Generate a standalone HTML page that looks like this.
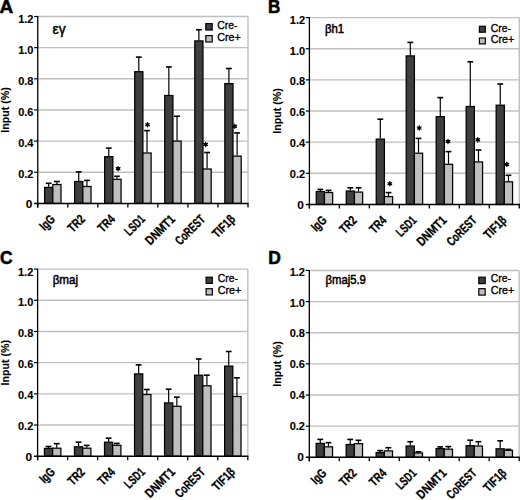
<!DOCTYPE html>
<html><head><meta charset="utf-8"><style>
html,body{margin:0;padding:0;background:#fff;}
body{width:520px;height:500px;overflow:hidden;}
svg{display:block;font-family:"Liberation Sans", sans-serif;}
.xl{stroke:#000;stroke-width:0.3px;}
.yt{stroke:#000;stroke-width:0.1px;}
.pl{stroke:#000;stroke-width:0.6px;}
.tk{stroke:#000;stroke-width:0.12px;}
.ti{stroke:#000;stroke-width:0.5px;}
.lg{stroke:#000;stroke-width:0.35px;}
</style></head><body>
<svg width="520" height="500" viewBox="0 0 520 500" fill="#000">
<rect width="520" height="500" fill="#fff"/>
<line x1="37.75" y1="16.5" x2="248" y2="16.5" stroke="#c0c0c0" stroke-width="1.4"/>
<line x1="37.75" y1="47.65" x2="248" y2="47.65" stroke="#c0c0c0" stroke-width="1.4"/>
<line x1="37.75" y1="78.8" x2="248" y2="78.8" stroke="#c0c0c0" stroke-width="1.4"/>
<line x1="37.75" y1="109.95" x2="248" y2="109.95" stroke="#c0c0c0" stroke-width="1.4"/>
<line x1="37.75" y1="141.1" x2="248" y2="141.1" stroke="#c0c0c0" stroke-width="1.4"/>
<line x1="37.75" y1="172.25" x2="248" y2="172.25" stroke="#c0c0c0" stroke-width="1.4"/>
<line x1="248" y1="16.5" x2="248" y2="203.4" stroke="#c0c0c0" stroke-width="1.4"/>
<line x1="48.7" y1="186.9" x2="48.7" y2="183.3" stroke="#000" stroke-width="1.2"/>
<line x1="45.8" y1="183.3" x2="51.6" y2="183.3" stroke="#000" stroke-width="1.6"/>
<line x1="56.9" y1="184" x2="56.9" y2="181.5" stroke="#000" stroke-width="1.2"/>
<line x1="54" y1="181.5" x2="59.8" y2="181.5" stroke="#000" stroke-width="1.6"/>
<rect x="44.6" y="187.4" width="8.2" height="16" fill="#3f3f3f" stroke="#000" stroke-width="1.25"/>
<rect x="52.8" y="184.5" width="8.2" height="18.9" fill="#bebebe" stroke="#000" stroke-width="1.25"/>
<line x1="78.74" y1="181" x2="78.74" y2="171.9" stroke="#000" stroke-width="1.2"/>
<line x1="75.84" y1="171.9" x2="81.64" y2="171.9" stroke="#000" stroke-width="1.6"/>
<line x1="86.94" y1="186" x2="86.94" y2="180.4" stroke="#000" stroke-width="1.2"/>
<line x1="84.04" y1="180.4" x2="89.84" y2="180.4" stroke="#000" stroke-width="1.6"/>
<rect x="74.64" y="181.5" width="8.2" height="21.9" fill="#3f3f3f" stroke="#000" stroke-width="1.25"/>
<rect x="82.84" y="186.5" width="8.2" height="16.9" fill="#bebebe" stroke="#000" stroke-width="1.25"/>
<line x1="108.77" y1="156.2" x2="108.77" y2="148.1" stroke="#000" stroke-width="1.2"/>
<line x1="105.87" y1="148.1" x2="111.67" y2="148.1" stroke="#000" stroke-width="1.6"/>
<line x1="116.97" y1="178.8" x2="116.97" y2="176.3" stroke="#000" stroke-width="1.2"/>
<line x1="114.07" y1="176.3" x2="119.87" y2="176.3" stroke="#000" stroke-width="1.6"/>
<rect x="104.67" y="156.7" width="8.2" height="46.7" fill="#3f3f3f" stroke="#000" stroke-width="1.25"/>
<rect x="112.87" y="179.3" width="8.2" height="24.1" fill="#bebebe" stroke="#000" stroke-width="1.25"/>
<line x1="138.81" y1="71.2" x2="138.81" y2="57.1" stroke="#000" stroke-width="1.2"/>
<line x1="135.91" y1="57.1" x2="141.71" y2="57.1" stroke="#000" stroke-width="1.6"/>
<line x1="147.01" y1="152.5" x2="147.01" y2="130.6" stroke="#000" stroke-width="1.2"/>
<line x1="144.11" y1="130.6" x2="149.91" y2="130.6" stroke="#000" stroke-width="1.6"/>
<rect x="134.71" y="71.7" width="8.2" height="131.7" fill="#3f3f3f" stroke="#000" stroke-width="1.25"/>
<rect x="142.91" y="153" width="8.2" height="50.4" fill="#bebebe" stroke="#000" stroke-width="1.25"/>
<line x1="168.84" y1="95" x2="168.84" y2="66.9" stroke="#000" stroke-width="1.2"/>
<line x1="165.94" y1="66.9" x2="171.74" y2="66.9" stroke="#000" stroke-width="1.6"/>
<line x1="177.04" y1="140.6" x2="177.04" y2="116.25" stroke="#000" stroke-width="1.2"/>
<line x1="174.14" y1="116.25" x2="179.94" y2="116.25" stroke="#000" stroke-width="1.6"/>
<rect x="164.74" y="95.5" width="8.2" height="107.9" fill="#3f3f3f" stroke="#000" stroke-width="1.25"/>
<rect x="172.94" y="141.1" width="8.2" height="62.3" fill="#bebebe" stroke="#000" stroke-width="1.25"/>
<line x1="198.88" y1="40.4" x2="198.88" y2="29.75" stroke="#000" stroke-width="1.2"/>
<line x1="195.98" y1="29.75" x2="201.78" y2="29.75" stroke="#000" stroke-width="1.6"/>
<line x1="207.08" y1="168.5" x2="207.08" y2="152.5" stroke="#000" stroke-width="1.2"/>
<line x1="204.18" y1="152.5" x2="209.98" y2="152.5" stroke="#000" stroke-width="1.6"/>
<rect x="194.78" y="40.9" width="8.2" height="162.5" fill="#3f3f3f" stroke="#000" stroke-width="1.25"/>
<rect x="202.98" y="169" width="8.2" height="34.4" fill="#bebebe" stroke="#000" stroke-width="1.25"/>
<line x1="228.91" y1="83.1" x2="228.91" y2="68.5" stroke="#000" stroke-width="1.2"/>
<line x1="226.01" y1="68.5" x2="231.81" y2="68.5" stroke="#000" stroke-width="1.6"/>
<line x1="237.11" y1="155.6" x2="237.11" y2="132.9" stroke="#000" stroke-width="1.2"/>
<line x1="234.21" y1="132.9" x2="240.01" y2="132.9" stroke="#000" stroke-width="1.6"/>
<rect x="224.81" y="83.6" width="8.2" height="119.8" fill="#3f3f3f" stroke="#000" stroke-width="1.25"/>
<rect x="233.01" y="156.1" width="8.2" height="47.3" fill="#bebebe" stroke="#000" stroke-width="1.25"/>
<line x1="37.75" y1="16" x2="37.75" y2="207.4" stroke="#000" stroke-width="1.3"/>
<line x1="34.15" y1="203.4" x2="248.6" y2="203.4" stroke="#000" stroke-width="1.5"/>
<line x1="34.15" y1="16.5" x2="37.75" y2="16.5" stroke="#000" stroke-width="1.2"/>
<line x1="34.15" y1="47.65" x2="37.75" y2="47.65" stroke="#000" stroke-width="1.2"/>
<line x1="34.15" y1="78.8" x2="37.75" y2="78.8" stroke="#000" stroke-width="1.2"/>
<line x1="34.15" y1="109.95" x2="37.75" y2="109.95" stroke="#000" stroke-width="1.2"/>
<line x1="34.15" y1="141.1" x2="37.75" y2="141.1" stroke="#000" stroke-width="1.2"/>
<line x1="34.15" y1="172.25" x2="37.75" y2="172.25" stroke="#000" stroke-width="1.2"/>
<line x1="37.75" y1="203.4" x2="37.75" y2="207.4" stroke="#000" stroke-width="1.3"/>
<line x1="67.79" y1="203.4" x2="67.79" y2="207.4" stroke="#000" stroke-width="1.3"/>
<line x1="97.82" y1="203.4" x2="97.82" y2="207.4" stroke="#000" stroke-width="1.3"/>
<line x1="127.86" y1="203.4" x2="127.86" y2="207.4" stroke="#000" stroke-width="1.3"/>
<line x1="157.89" y1="203.4" x2="157.89" y2="207.4" stroke="#000" stroke-width="1.3"/>
<line x1="187.93" y1="203.4" x2="187.93" y2="207.4" stroke="#000" stroke-width="1.3"/>
<line x1="217.96" y1="203.4" x2="217.96" y2="207.4" stroke="#000" stroke-width="1.3"/>
<line x1="248" y1="203.4" x2="248" y2="207.4" stroke="#000" stroke-width="1.3"/>
<text x="33.45" y="23.25" class="tk" text-anchor="end" font-size="11.8" font-weight="bold" textLength="15.3" lengthAdjust="spacingAndGlyphs">1.2</text>
<text x="33.45" y="54.11" class="tk" text-anchor="end" font-size="11.8" font-weight="bold" textLength="15.3" lengthAdjust="spacingAndGlyphs">1.0</text>
<text x="33.45" y="84.97" class="tk" text-anchor="end" font-size="11.8" font-weight="bold" textLength="15.3" lengthAdjust="spacingAndGlyphs">0.8</text>
<text x="33.45" y="115.83" class="tk" text-anchor="end" font-size="11.8" font-weight="bold" textLength="15.3" lengthAdjust="spacingAndGlyphs">0.6</text>
<text x="33.45" y="146.68" class="tk" text-anchor="end" font-size="11.8" font-weight="bold" textLength="15.3" lengthAdjust="spacingAndGlyphs">0.4</text>
<text x="33.45" y="177.54" class="tk" text-anchor="end" font-size="11.8" font-weight="bold" textLength="15.3" lengthAdjust="spacingAndGlyphs">0.2</text>
<text x="32.25" y="208.4" class="tk" text-anchor="end" font-size="11.8" font-weight="bold" textLength="6.6" lengthAdjust="spacingAndGlyphs">0</text>
<text transform="translate(9.15,109.95) rotate(-90)" class="yt" text-anchor="middle" font-size="11.8" font-weight="bold" textLength="45.5" lengthAdjust="spacingAndGlyphs">Input (%)</text>
<text transform="translate(55.85,220) rotate(-45)" class="xl" text-anchor="end" font-size="12.8" font-weight="bold" textLength="16" lengthAdjust="spacingAndGlyphs">IgG</text>
<text transform="translate(85.89,220) rotate(-45)" class="xl" text-anchor="end" font-size="12.8" font-weight="bold" textLength="18.5" lengthAdjust="spacingAndGlyphs">TR2</text>
<text transform="translate(115.92,220) rotate(-45)" class="xl" text-anchor="end" font-size="12.8" font-weight="bold" textLength="18.5" lengthAdjust="spacingAndGlyphs">TR4</text>
<text transform="translate(145.96,220) rotate(-45)" class="xl" text-anchor="end" font-size="12.8" font-weight="bold" textLength="23.3" lengthAdjust="spacingAndGlyphs">LSD1</text>
<text transform="translate(175.99,220) rotate(-45)" class="xl" text-anchor="end" font-size="12.8" font-weight="bold" textLength="36.4" lengthAdjust="spacingAndGlyphs">DNMT1</text>
<text transform="translate(206.03,220) rotate(-45)" class="xl" text-anchor="end" font-size="12.8" font-weight="bold" textLength="36.4" lengthAdjust="spacingAndGlyphs">CoREST</text>
<text transform="translate(236.06,220) rotate(-45)" class="xl" text-anchor="end" font-size="12.8" font-weight="bold" textLength="26.5" lengthAdjust="spacingAndGlyphs">TIF1β</text>
<path d="M118.1 166.6L118.1 170.8M116.28 167.65L119.92 169.75M119.92 167.65L116.28 169.75" stroke="#000" stroke-width="1.3" stroke-linecap="round"/>
<circle cx="118.1" cy="168.7" r="1.5" fill="#000"/>
<path d="M147.5 122.65L147.5 126.85M145.68 123.7L149.32 125.8M149.32 123.7L145.68 125.8" stroke="#000" stroke-width="1.3" stroke-linecap="round"/>
<circle cx="147.5" cy="124.75" r="1.5" fill="#000"/>
<path d="M205.6 142.3L205.6 146.5M203.78 143.35L207.42 145.45M207.42 143.35L203.78 145.45" stroke="#000" stroke-width="1.3" stroke-linecap="round"/>
<circle cx="205.6" cy="144.4" r="1.5" fill="#000"/>
<path d="M234.75 124.15L234.75 128.35M232.93 125.2L236.57 127.3M236.57 125.2L232.93 127.3" stroke="#000" stroke-width="1.3" stroke-linecap="round"/>
<circle cx="234.75" cy="126.25" r="1.5" fill="#000"/>
<text x="52.5" y="33.5" class="ti" font-size="14.8" textLength="13.1" lengthAdjust="spacingAndGlyphs">εγ</text>
<rect x="205.8" y="23.6" width="6.4" height="6.4" fill="#3f3f3f" stroke="#000" stroke-width="1.2"/>
<rect x="205.8" y="35.6" width="6.4" height="6.4" fill="#bebebe" stroke="#000" stroke-width="1.2"/>
<text x="217.2" y="29.4" class="lg" font-size="11.2" textLength="20.2" lengthAdjust="spacingAndGlyphs">Cre-</text>
<text x="217.2" y="41.4" class="lg" font-size="11.2" textLength="23.6" lengthAdjust="spacingAndGlyphs">Cre+</text>
<text x="-0.6" y="12.8" class="pl" font-size="19" font-weight="bold" textLength="13.7" lengthAdjust="spacingAndGlyphs">A</text>
<line x1="309.4" y1="17.6" x2="519.3" y2="17.6" stroke="#c0c0c0" stroke-width="1.4"/>
<line x1="309.4" y1="48.74" x2="519.3" y2="48.74" stroke="#c0c0c0" stroke-width="1.4"/>
<line x1="309.4" y1="79.88" x2="519.3" y2="79.88" stroke="#c0c0c0" stroke-width="1.4"/>
<line x1="309.4" y1="111.03" x2="519.3" y2="111.03" stroke="#c0c0c0" stroke-width="1.4"/>
<line x1="309.4" y1="142.17" x2="519.3" y2="142.17" stroke="#c0c0c0" stroke-width="1.4"/>
<line x1="309.4" y1="173.31" x2="519.3" y2="173.31" stroke="#c0c0c0" stroke-width="1.4"/>
<line x1="519.3" y1="17.6" x2="519.3" y2="204.45" stroke="#c0c0c0" stroke-width="1.4"/>
<line x1="320.35" y1="191" x2="320.35" y2="189.4" stroke="#000" stroke-width="1.2"/>
<line x1="317.45" y1="189.4" x2="323.25" y2="189.4" stroke="#000" stroke-width="1.6"/>
<line x1="328.55" y1="192" x2="328.55" y2="190.4" stroke="#000" stroke-width="1.2"/>
<line x1="325.65" y1="190.4" x2="331.45" y2="190.4" stroke="#000" stroke-width="1.6"/>
<rect x="316.25" y="191.5" width="8.2" height="12.95" fill="#3f3f3f" stroke="#000" stroke-width="1.25"/>
<rect x="324.45" y="192.5" width="8.2" height="11.95" fill="#bebebe" stroke="#000" stroke-width="1.25"/>
<line x1="350.34" y1="190.5" x2="350.34" y2="187.8" stroke="#000" stroke-width="1.2"/>
<line x1="347.44" y1="187.8" x2="353.24" y2="187.8" stroke="#000" stroke-width="1.6"/>
<line x1="358.54" y1="191.6" x2="358.54" y2="187.8" stroke="#000" stroke-width="1.2"/>
<line x1="355.64" y1="187.8" x2="361.44" y2="187.8" stroke="#000" stroke-width="1.6"/>
<rect x="346.24" y="191" width="8.2" height="13.45" fill="#3f3f3f" stroke="#000" stroke-width="1.25"/>
<rect x="354.44" y="192.1" width="8.2" height="12.35" fill="#bebebe" stroke="#000" stroke-width="1.25"/>
<line x1="380.32" y1="138.6" x2="380.32" y2="119.2" stroke="#000" stroke-width="1.2"/>
<line x1="377.42" y1="119.2" x2="383.22" y2="119.2" stroke="#000" stroke-width="1.6"/>
<line x1="388.52" y1="196.1" x2="388.52" y2="192.6" stroke="#000" stroke-width="1.2"/>
<line x1="385.62" y1="192.6" x2="391.42" y2="192.6" stroke="#000" stroke-width="1.6"/>
<rect x="376.22" y="139.1" width="8.2" height="65.35" fill="#3f3f3f" stroke="#000" stroke-width="1.25"/>
<rect x="384.42" y="196.6" width="8.2" height="7.85" fill="#bebebe" stroke="#000" stroke-width="1.25"/>
<line x1="410.31" y1="55.4" x2="410.31" y2="42.4" stroke="#000" stroke-width="1.2"/>
<line x1="407.41" y1="42.4" x2="413.21" y2="42.4" stroke="#000" stroke-width="1.6"/>
<line x1="418.51" y1="152.7" x2="418.51" y2="138.4" stroke="#000" stroke-width="1.2"/>
<line x1="415.61" y1="138.4" x2="421.41" y2="138.4" stroke="#000" stroke-width="1.6"/>
<rect x="406.21" y="55.9" width="8.2" height="148.55" fill="#3f3f3f" stroke="#000" stroke-width="1.25"/>
<rect x="414.41" y="153.2" width="8.2" height="51.25" fill="#bebebe" stroke="#000" stroke-width="1.25"/>
<line x1="440.29" y1="116.2" x2="440.29" y2="97.6" stroke="#000" stroke-width="1.2"/>
<line x1="437.39" y1="97.6" x2="443.19" y2="97.6" stroke="#000" stroke-width="1.6"/>
<line x1="448.49" y1="163.8" x2="448.49" y2="151.6" stroke="#000" stroke-width="1.2"/>
<line x1="445.59" y1="151.6" x2="451.39" y2="151.6" stroke="#000" stroke-width="1.6"/>
<rect x="436.19" y="116.7" width="8.2" height="87.75" fill="#3f3f3f" stroke="#000" stroke-width="1.25"/>
<rect x="444.39" y="164.3" width="8.2" height="40.15" fill="#bebebe" stroke="#000" stroke-width="1.25"/>
<line x1="470.28" y1="106" x2="470.28" y2="61.8" stroke="#000" stroke-width="1.2"/>
<line x1="467.38" y1="61.8" x2="473.18" y2="61.8" stroke="#000" stroke-width="1.6"/>
<line x1="478.48" y1="161.4" x2="478.48" y2="150" stroke="#000" stroke-width="1.2"/>
<line x1="475.58" y1="150" x2="481.38" y2="150" stroke="#000" stroke-width="1.6"/>
<rect x="466.18" y="106.5" width="8.2" height="97.95" fill="#3f3f3f" stroke="#000" stroke-width="1.25"/>
<rect x="474.38" y="161.9" width="8.2" height="42.55" fill="#bebebe" stroke="#000" stroke-width="1.25"/>
<line x1="500.26" y1="104.7" x2="500.26" y2="84" stroke="#000" stroke-width="1.2"/>
<line x1="497.36" y1="84" x2="503.16" y2="84" stroke="#000" stroke-width="1.6"/>
<line x1="508.46" y1="181.3" x2="508.46" y2="175.3" stroke="#000" stroke-width="1.2"/>
<line x1="505.56" y1="175.3" x2="511.36" y2="175.3" stroke="#000" stroke-width="1.6"/>
<rect x="496.16" y="105.2" width="8.2" height="99.25" fill="#3f3f3f" stroke="#000" stroke-width="1.25"/>
<rect x="504.36" y="181.8" width="8.2" height="22.65" fill="#bebebe" stroke="#000" stroke-width="1.25"/>
<line x1="309.4" y1="17.1" x2="309.4" y2="208.45" stroke="#000" stroke-width="1.3"/>
<line x1="305.8" y1="204.45" x2="519.9" y2="204.45" stroke="#000" stroke-width="1.5"/>
<line x1="305.8" y1="17.6" x2="309.4" y2="17.6" stroke="#000" stroke-width="1.2"/>
<line x1="305.8" y1="48.74" x2="309.4" y2="48.74" stroke="#000" stroke-width="1.2"/>
<line x1="305.8" y1="79.88" x2="309.4" y2="79.88" stroke="#000" stroke-width="1.2"/>
<line x1="305.8" y1="111.03" x2="309.4" y2="111.03" stroke="#000" stroke-width="1.2"/>
<line x1="305.8" y1="142.17" x2="309.4" y2="142.17" stroke="#000" stroke-width="1.2"/>
<line x1="305.8" y1="173.31" x2="309.4" y2="173.31" stroke="#000" stroke-width="1.2"/>
<line x1="309.4" y1="204.45" x2="309.4" y2="208.45" stroke="#000" stroke-width="1.3"/>
<line x1="339.39" y1="204.45" x2="339.39" y2="208.45" stroke="#000" stroke-width="1.3"/>
<line x1="369.37" y1="204.45" x2="369.37" y2="208.45" stroke="#000" stroke-width="1.3"/>
<line x1="399.36" y1="204.45" x2="399.36" y2="208.45" stroke="#000" stroke-width="1.3"/>
<line x1="429.34" y1="204.45" x2="429.34" y2="208.45" stroke="#000" stroke-width="1.3"/>
<line x1="459.33" y1="204.45" x2="459.33" y2="208.45" stroke="#000" stroke-width="1.3"/>
<line x1="489.31" y1="204.45" x2="489.31" y2="208.45" stroke="#000" stroke-width="1.3"/>
<line x1="519.3" y1="204.45" x2="519.3" y2="208.45" stroke="#000" stroke-width="1.3"/>
<text x="305.1" y="23.7" class="tk" text-anchor="end" font-size="11.8" font-weight="bold" textLength="15.3" lengthAdjust="spacingAndGlyphs">1.2</text>
<text x="305.1" y="54.58" class="tk" text-anchor="end" font-size="11.8" font-weight="bold" textLength="15.3" lengthAdjust="spacingAndGlyphs">1.0</text>
<text x="305.1" y="85.47" class="tk" text-anchor="end" font-size="11.8" font-weight="bold" textLength="15.3" lengthAdjust="spacingAndGlyphs">0.8</text>
<text x="305.1" y="116.35" class="tk" text-anchor="end" font-size="11.8" font-weight="bold" textLength="15.3" lengthAdjust="spacingAndGlyphs">0.6</text>
<text x="305.1" y="147.23" class="tk" text-anchor="end" font-size="11.8" font-weight="bold" textLength="15.3" lengthAdjust="spacingAndGlyphs">0.4</text>
<text x="305.1" y="178.12" class="tk" text-anchor="end" font-size="11.8" font-weight="bold" textLength="15.3" lengthAdjust="spacingAndGlyphs">0.2</text>
<text x="303.9" y="209" class="tk" text-anchor="end" font-size="11.8" font-weight="bold" textLength="6.6" lengthAdjust="spacingAndGlyphs">0</text>
<text transform="translate(280.8,111.02) rotate(-90)" class="yt" text-anchor="middle" font-size="11.8" font-weight="bold" textLength="45.5" lengthAdjust="spacingAndGlyphs">Input (%)</text>
<text transform="translate(327.5,221.05) rotate(-45)" class="xl" text-anchor="end" font-size="12.8" font-weight="bold" textLength="16" lengthAdjust="spacingAndGlyphs">IgG</text>
<text transform="translate(357.49,221.05) rotate(-45)" class="xl" text-anchor="end" font-size="12.8" font-weight="bold" textLength="18.5" lengthAdjust="spacingAndGlyphs">TR2</text>
<text transform="translate(387.47,221.05) rotate(-45)" class="xl" text-anchor="end" font-size="12.8" font-weight="bold" textLength="18.5" lengthAdjust="spacingAndGlyphs">TR4</text>
<text transform="translate(417.46,221.05) rotate(-45)" class="xl" text-anchor="end" font-size="12.8" font-weight="bold" textLength="23.3" lengthAdjust="spacingAndGlyphs">LSD1</text>
<text transform="translate(447.44,221.05) rotate(-45)" class="xl" text-anchor="end" font-size="12.8" font-weight="bold" textLength="36.4" lengthAdjust="spacingAndGlyphs">DNMT1</text>
<text transform="translate(477.43,221.05) rotate(-45)" class="xl" text-anchor="end" font-size="12.8" font-weight="bold" textLength="36.4" lengthAdjust="spacingAndGlyphs">CoREST</text>
<text transform="translate(507.41,221.05) rotate(-45)" class="xl" text-anchor="end" font-size="12.8" font-weight="bold" textLength="26.5" lengthAdjust="spacingAndGlyphs">TIF1β</text>
<path d="M389.8 181.65L389.8 185.85M387.98 182.7L391.62 184.8M391.62 182.7L387.98 184.8" stroke="#000" stroke-width="1.3" stroke-linecap="round"/>
<circle cx="389.8" cy="183.75" r="1.5" fill="#000"/>
<path d="M419.2 125.9L419.2 130.1M417.38 126.95L421.02 129.05M421.02 126.95L417.38 129.05" stroke="#000" stroke-width="1.3" stroke-linecap="round"/>
<circle cx="419.2" cy="128" r="1.5" fill="#000"/>
<path d="M448 139.3L448 143.5M446.18 140.35L449.82 142.45M449.82 140.35L446.18 142.45" stroke="#000" stroke-width="1.3" stroke-linecap="round"/>
<circle cx="448" cy="141.4" r="1.5" fill="#000"/>
<path d="M477.8 137.7L477.8 141.9M475.98 138.75L479.62 140.85M479.62 138.75L475.98 140.85" stroke="#000" stroke-width="1.3" stroke-linecap="round"/>
<circle cx="477.8" cy="139.8" r="1.5" fill="#000"/>
<path d="M506.8 162.2L506.8 166.4M504.98 163.25L508.62 165.35M508.62 163.25L504.98 165.35" stroke="#000" stroke-width="1.3" stroke-linecap="round"/>
<circle cx="506.8" cy="164.3" r="1.5" fill="#000"/>
<text x="324.9" y="33.3" class="ti" font-size="12.2" textLength="19.2" lengthAdjust="spacingAndGlyphs">βh1</text>
<rect x="479.4" y="26.3" width="5.9" height="5.9" fill="#3f3f3f" stroke="#000" stroke-width="1.2"/>
<rect x="479.4" y="38" width="5.9" height="5.9" fill="#bebebe" stroke="#000" stroke-width="1.2"/>
<text x="490.7" y="31.8" class="lg" font-size="11.2" textLength="20.2" lengthAdjust="spacingAndGlyphs">Cre-</text>
<text x="490.7" y="43.4" class="lg" font-size="11.2" textLength="23.6" lengthAdjust="spacingAndGlyphs">Cre+</text>
<text x="268" y="12.8" class="pl" font-size="19" font-weight="bold" textLength="12.3" lengthAdjust="spacingAndGlyphs">B</text>
<line x1="37.6" y1="269.1" x2="247.8" y2="269.1" stroke="#c0c0c0" stroke-width="1.4"/>
<line x1="37.6" y1="300.28" x2="247.8" y2="300.28" stroke="#c0c0c0" stroke-width="1.4"/>
<line x1="37.6" y1="331.47" x2="247.8" y2="331.47" stroke="#c0c0c0" stroke-width="1.4"/>
<line x1="37.6" y1="362.65" x2="247.8" y2="362.65" stroke="#c0c0c0" stroke-width="1.4"/>
<line x1="37.6" y1="393.83" x2="247.8" y2="393.83" stroke="#c0c0c0" stroke-width="1.4"/>
<line x1="37.6" y1="425.02" x2="247.8" y2="425.02" stroke="#c0c0c0" stroke-width="1.4"/>
<line x1="247.8" y1="269.1" x2="247.8" y2="456.2" stroke="#c0c0c0" stroke-width="1.4"/>
<line x1="48.55" y1="447.9" x2="48.55" y2="446.5" stroke="#000" stroke-width="1.2"/>
<line x1="45.65" y1="446.5" x2="51.45" y2="446.5" stroke="#000" stroke-width="1.6"/>
<line x1="56.75" y1="447.7" x2="56.75" y2="443.65" stroke="#000" stroke-width="1.2"/>
<line x1="53.85" y1="443.65" x2="59.65" y2="443.65" stroke="#000" stroke-width="1.6"/>
<rect x="44.45" y="448.4" width="8.2" height="7.8" fill="#3f3f3f" stroke="#000" stroke-width="1.25"/>
<rect x="52.65" y="448.2" width="8.2" height="8" fill="#bebebe" stroke="#000" stroke-width="1.25"/>
<line x1="78.58" y1="446.3" x2="78.58" y2="442.15" stroke="#000" stroke-width="1.2"/>
<line x1="75.68" y1="442.15" x2="81.48" y2="442.15" stroke="#000" stroke-width="1.6"/>
<line x1="86.78" y1="447.7" x2="86.78" y2="445.4" stroke="#000" stroke-width="1.2"/>
<line x1="83.88" y1="445.4" x2="89.68" y2="445.4" stroke="#000" stroke-width="1.6"/>
<rect x="74.48" y="446.8" width="8.2" height="9.4" fill="#3f3f3f" stroke="#000" stroke-width="1.25"/>
<rect x="82.68" y="448.2" width="8.2" height="8" fill="#bebebe" stroke="#000" stroke-width="1.25"/>
<line x1="108.61" y1="441.7" x2="108.61" y2="438.2" stroke="#000" stroke-width="1.2"/>
<line x1="105.71" y1="438.2" x2="111.51" y2="438.2" stroke="#000" stroke-width="1.6"/>
<line x1="116.81" y1="444.8" x2="116.81" y2="443.4" stroke="#000" stroke-width="1.2"/>
<line x1="113.91" y1="443.4" x2="119.71" y2="443.4" stroke="#000" stroke-width="1.6"/>
<rect x="104.51" y="442.2" width="8.2" height="14" fill="#3f3f3f" stroke="#000" stroke-width="1.25"/>
<rect x="112.71" y="445.3" width="8.2" height="10.9" fill="#bebebe" stroke="#000" stroke-width="1.25"/>
<line x1="138.64" y1="373.4" x2="138.64" y2="364.85" stroke="#000" stroke-width="1.2"/>
<line x1="135.74" y1="364.85" x2="141.54" y2="364.85" stroke="#000" stroke-width="1.6"/>
<line x1="146.84" y1="394" x2="146.84" y2="389.5" stroke="#000" stroke-width="1.2"/>
<line x1="143.94" y1="389.5" x2="149.74" y2="389.5" stroke="#000" stroke-width="1.6"/>
<rect x="134.54" y="373.9" width="8.2" height="82.3" fill="#3f3f3f" stroke="#000" stroke-width="1.25"/>
<rect x="142.74" y="394.5" width="8.2" height="61.7" fill="#bebebe" stroke="#000" stroke-width="1.25"/>
<line x1="168.66" y1="402.4" x2="168.66" y2="389.2" stroke="#000" stroke-width="1.2"/>
<line x1="165.76" y1="389.2" x2="171.56" y2="389.2" stroke="#000" stroke-width="1.6"/>
<line x1="176.86" y1="405.8" x2="176.86" y2="397.2" stroke="#000" stroke-width="1.2"/>
<line x1="173.96" y1="397.2" x2="179.76" y2="397.2" stroke="#000" stroke-width="1.6"/>
<rect x="164.56" y="402.9" width="8.2" height="53.3" fill="#3f3f3f" stroke="#000" stroke-width="1.25"/>
<rect x="172.76" y="406.3" width="8.2" height="49.9" fill="#bebebe" stroke="#000" stroke-width="1.25"/>
<line x1="198.69" y1="374.7" x2="198.69" y2="359" stroke="#000" stroke-width="1.2"/>
<line x1="195.79" y1="359" x2="201.59" y2="359" stroke="#000" stroke-width="1.6"/>
<line x1="206.89" y1="385.3" x2="206.89" y2="375.2" stroke="#000" stroke-width="1.2"/>
<line x1="203.99" y1="375.2" x2="209.79" y2="375.2" stroke="#000" stroke-width="1.6"/>
<rect x="194.59" y="375.2" width="8.2" height="81" fill="#3f3f3f" stroke="#000" stroke-width="1.25"/>
<rect x="202.79" y="385.8" width="8.2" height="70.4" fill="#bebebe" stroke="#000" stroke-width="1.25"/>
<line x1="228.72" y1="365.6" x2="228.72" y2="351.5" stroke="#000" stroke-width="1.2"/>
<line x1="225.82" y1="351.5" x2="231.62" y2="351.5" stroke="#000" stroke-width="1.6"/>
<line x1="236.92" y1="396" x2="236.92" y2="377.8" stroke="#000" stroke-width="1.2"/>
<line x1="234.02" y1="377.8" x2="239.82" y2="377.8" stroke="#000" stroke-width="1.6"/>
<rect x="224.62" y="366.1" width="8.2" height="90.1" fill="#3f3f3f" stroke="#000" stroke-width="1.25"/>
<rect x="232.82" y="396.5" width="8.2" height="59.7" fill="#bebebe" stroke="#000" stroke-width="1.25"/>
<line x1="37.6" y1="268.6" x2="37.6" y2="460.2" stroke="#000" stroke-width="1.3"/>
<line x1="34" y1="456.2" x2="248.4" y2="456.2" stroke="#000" stroke-width="1.5"/>
<line x1="34" y1="269.1" x2="37.6" y2="269.1" stroke="#000" stroke-width="1.2"/>
<line x1="34" y1="300.28" x2="37.6" y2="300.28" stroke="#000" stroke-width="1.2"/>
<line x1="34" y1="331.47" x2="37.6" y2="331.47" stroke="#000" stroke-width="1.2"/>
<line x1="34" y1="362.65" x2="37.6" y2="362.65" stroke="#000" stroke-width="1.2"/>
<line x1="34" y1="393.83" x2="37.6" y2="393.83" stroke="#000" stroke-width="1.2"/>
<line x1="34" y1="425.02" x2="37.6" y2="425.02" stroke="#000" stroke-width="1.2"/>
<line x1="37.6" y1="456.2" x2="37.6" y2="460.2" stroke="#000" stroke-width="1.3"/>
<line x1="67.63" y1="456.2" x2="67.63" y2="460.2" stroke="#000" stroke-width="1.3"/>
<line x1="97.66" y1="456.2" x2="97.66" y2="460.2" stroke="#000" stroke-width="1.3"/>
<line x1="127.69" y1="456.2" x2="127.69" y2="460.2" stroke="#000" stroke-width="1.3"/>
<line x1="157.71" y1="456.2" x2="157.71" y2="460.2" stroke="#000" stroke-width="1.3"/>
<line x1="187.74" y1="456.2" x2="187.74" y2="460.2" stroke="#000" stroke-width="1.3"/>
<line x1="217.77" y1="456.2" x2="217.77" y2="460.2" stroke="#000" stroke-width="1.3"/>
<line x1="247.8" y1="456.2" x2="247.8" y2="460.2" stroke="#000" stroke-width="1.3"/>
<text x="33.3" y="275.5" class="tk" text-anchor="end" font-size="11.8" font-weight="bold" textLength="15.3" lengthAdjust="spacingAndGlyphs">1.2</text>
<text x="33.3" y="306.42" class="tk" text-anchor="end" font-size="11.8" font-weight="bold" textLength="15.3" lengthAdjust="spacingAndGlyphs">1.0</text>
<text x="33.3" y="337.33" class="tk" text-anchor="end" font-size="11.8" font-weight="bold" textLength="15.3" lengthAdjust="spacingAndGlyphs">0.8</text>
<text x="33.3" y="368.25" class="tk" text-anchor="end" font-size="11.8" font-weight="bold" textLength="15.3" lengthAdjust="spacingAndGlyphs">0.6</text>
<text x="33.3" y="399.17" class="tk" text-anchor="end" font-size="11.8" font-weight="bold" textLength="15.3" lengthAdjust="spacingAndGlyphs">0.4</text>
<text x="33.3" y="430.08" class="tk" text-anchor="end" font-size="11.8" font-weight="bold" textLength="15.3" lengthAdjust="spacingAndGlyphs">0.2</text>
<text x="32.1" y="461" class="tk" text-anchor="end" font-size="11.8" font-weight="bold" textLength="6.6" lengthAdjust="spacingAndGlyphs">0</text>
<text transform="translate(9,362.65) rotate(-90)" class="yt" text-anchor="middle" font-size="11.8" font-weight="bold" textLength="45.5" lengthAdjust="spacingAndGlyphs">Input (%)</text>
<text transform="translate(55.7,472.8) rotate(-45)" class="xl" text-anchor="end" font-size="12.8" font-weight="bold" textLength="16" lengthAdjust="spacingAndGlyphs">IgG</text>
<text transform="translate(85.73,472.8) rotate(-45)" class="xl" text-anchor="end" font-size="12.8" font-weight="bold" textLength="18.5" lengthAdjust="spacingAndGlyphs">TR2</text>
<text transform="translate(115.76,472.8) rotate(-45)" class="xl" text-anchor="end" font-size="12.8" font-weight="bold" textLength="18.5" lengthAdjust="spacingAndGlyphs">TR4</text>
<text transform="translate(145.79,472.8) rotate(-45)" class="xl" text-anchor="end" font-size="12.8" font-weight="bold" textLength="23.3" lengthAdjust="spacingAndGlyphs">LSD1</text>
<text transform="translate(175.81,472.8) rotate(-45)" class="xl" text-anchor="end" font-size="12.8" font-weight="bold" textLength="36.4" lengthAdjust="spacingAndGlyphs">DNMT1</text>
<text transform="translate(205.84,472.8) rotate(-45)" class="xl" text-anchor="end" font-size="12.8" font-weight="bold" textLength="36.4" lengthAdjust="spacingAndGlyphs">CoREST</text>
<text transform="translate(235.87,472.8) rotate(-45)" class="xl" text-anchor="end" font-size="12.8" font-weight="bold" textLength="26.5" lengthAdjust="spacingAndGlyphs">TIF1β</text>
<text x="52.7" y="284.3" class="ti" font-size="12.2" textLength="25.4" lengthAdjust="spacingAndGlyphs">βmaj</text>
<rect x="206.1" y="277.2" width="6.2" height="6.2" fill="#3f3f3f" stroke="#000" stroke-width="1.2"/>
<rect x="206.1" y="288.7" width="6.2" height="6.2" fill="#bebebe" stroke="#000" stroke-width="1.2"/>
<text x="217.7" y="282.3" class="lg" font-size="11.2" textLength="20.2" lengthAdjust="spacingAndGlyphs">Cre-</text>
<text x="217.7" y="293.9" class="lg" font-size="11.2" textLength="23.6" lengthAdjust="spacingAndGlyphs">Cre+</text>
<text x="0.1" y="264.2" class="pl" font-size="19" font-weight="bold" textLength="12.6" lengthAdjust="spacingAndGlyphs">C</text>
<line x1="309.3" y1="270.45" x2="519.2" y2="270.45" stroke="#c0c0c0" stroke-width="1.4"/>
<line x1="309.3" y1="301.59" x2="519.2" y2="301.59" stroke="#c0c0c0" stroke-width="1.4"/>
<line x1="309.3" y1="332.73" x2="519.2" y2="332.73" stroke="#c0c0c0" stroke-width="1.4"/>
<line x1="309.3" y1="363.88" x2="519.2" y2="363.88" stroke="#c0c0c0" stroke-width="1.4"/>
<line x1="309.3" y1="395.02" x2="519.2" y2="395.02" stroke="#c0c0c0" stroke-width="1.4"/>
<line x1="309.3" y1="426.16" x2="519.2" y2="426.16" stroke="#c0c0c0" stroke-width="1.4"/>
<line x1="519.2" y1="270.45" x2="519.2" y2="457.3" stroke="#c0c0c0" stroke-width="1.4"/>
<line x1="320.25" y1="442.9" x2="320.25" y2="439.4" stroke="#000" stroke-width="1.2"/>
<line x1="317.35" y1="439.4" x2="323.15" y2="439.4" stroke="#000" stroke-width="1.6"/>
<line x1="328.45" y1="446.3" x2="328.45" y2="442.65" stroke="#000" stroke-width="1.2"/>
<line x1="325.55" y1="442.65" x2="331.35" y2="442.65" stroke="#000" stroke-width="1.6"/>
<rect x="316.15" y="443.4" width="8.2" height="13.9" fill="#3f3f3f" stroke="#000" stroke-width="1.25"/>
<rect x="324.35" y="446.8" width="8.2" height="10.5" fill="#bebebe" stroke="#000" stroke-width="1.25"/>
<line x1="350.24" y1="444" x2="350.24" y2="439.4" stroke="#000" stroke-width="1.2"/>
<line x1="347.34" y1="439.4" x2="353.14" y2="439.4" stroke="#000" stroke-width="1.6"/>
<line x1="358.44" y1="443.2" x2="358.44" y2="440.3" stroke="#000" stroke-width="1.2"/>
<line x1="355.54" y1="440.3" x2="361.34" y2="440.3" stroke="#000" stroke-width="1.6"/>
<rect x="346.14" y="444.5" width="8.2" height="12.8" fill="#3f3f3f" stroke="#000" stroke-width="1.25"/>
<rect x="354.34" y="443.7" width="8.2" height="13.6" fill="#bebebe" stroke="#000" stroke-width="1.25"/>
<line x1="380.22" y1="452.1" x2="380.22" y2="450.6" stroke="#000" stroke-width="1.2"/>
<line x1="377.32" y1="450.6" x2="383.12" y2="450.6" stroke="#000" stroke-width="1.6"/>
<line x1="388.42" y1="450.4" x2="388.42" y2="447.7" stroke="#000" stroke-width="1.2"/>
<line x1="385.52" y1="447.7" x2="391.32" y2="447.7" stroke="#000" stroke-width="1.6"/>
<rect x="376.12" y="452.6" width="8.2" height="4.7" fill="#3f3f3f" stroke="#000" stroke-width="1.25"/>
<rect x="384.32" y="450.9" width="8.2" height="6.4" fill="#bebebe" stroke="#000" stroke-width="1.25"/>
<line x1="410.21" y1="445.5" x2="410.21" y2="441.7" stroke="#000" stroke-width="1.2"/>
<line x1="407.31" y1="441.7" x2="413.11" y2="441.7" stroke="#000" stroke-width="1.6"/>
<line x1="418.41" y1="452.5" x2="418.41" y2="451.8" stroke="#000" stroke-width="1.2"/>
<line x1="415.51" y1="451.8" x2="421.31" y2="451.8" stroke="#000" stroke-width="1.6"/>
<rect x="406.11" y="446" width="8.2" height="11.3" fill="#3f3f3f" stroke="#000" stroke-width="1.25"/>
<rect x="414.31" y="453" width="8.2" height="4.3" fill="#bebebe" stroke="#000" stroke-width="1.25"/>
<line x1="440.19" y1="448.1" x2="440.19" y2="446.9" stroke="#000" stroke-width="1.2"/>
<line x1="437.29" y1="446.9" x2="443.09" y2="446.9" stroke="#000" stroke-width="1.6"/>
<line x1="448.39" y1="448.65" x2="448.39" y2="446.6" stroke="#000" stroke-width="1.2"/>
<line x1="445.49" y1="446.6" x2="451.29" y2="446.6" stroke="#000" stroke-width="1.6"/>
<rect x="436.09" y="448.6" width="8.2" height="8.7" fill="#3f3f3f" stroke="#000" stroke-width="1.25"/>
<rect x="444.29" y="449.15" width="8.2" height="8.15" fill="#bebebe" stroke="#000" stroke-width="1.25"/>
<line x1="470.18" y1="445.2" x2="470.18" y2="440.2" stroke="#000" stroke-width="1.2"/>
<line x1="467.28" y1="440.2" x2="473.08" y2="440.2" stroke="#000" stroke-width="1.6"/>
<line x1="478.38" y1="445.5" x2="478.38" y2="441.7" stroke="#000" stroke-width="1.2"/>
<line x1="475.48" y1="441.7" x2="481.28" y2="441.7" stroke="#000" stroke-width="1.6"/>
<rect x="466.08" y="445.7" width="8.2" height="11.6" fill="#3f3f3f" stroke="#000" stroke-width="1.25"/>
<rect x="474.28" y="446" width="8.2" height="11.3" fill="#bebebe" stroke="#000" stroke-width="1.25"/>
<line x1="500.16" y1="448.3" x2="500.16" y2="440.8" stroke="#000" stroke-width="1.2"/>
<line x1="497.26" y1="440.8" x2="503.06" y2="440.8" stroke="#000" stroke-width="1.6"/>
<line x1="508.36" y1="449.8" x2="508.36" y2="449.4" stroke="#000" stroke-width="1.2"/>
<line x1="505.46" y1="449.4" x2="511.26" y2="449.4" stroke="#000" stroke-width="1.6"/>
<rect x="496.06" y="448.8" width="8.2" height="8.5" fill="#3f3f3f" stroke="#000" stroke-width="1.25"/>
<rect x="504.26" y="450.3" width="8.2" height="7" fill="#bebebe" stroke="#000" stroke-width="1.25"/>
<line x1="309.3" y1="269.95" x2="309.3" y2="461.3" stroke="#000" stroke-width="1.3"/>
<line x1="305.7" y1="457.3" x2="519.8" y2="457.3" stroke="#000" stroke-width="1.5"/>
<line x1="305.7" y1="270.45" x2="309.3" y2="270.45" stroke="#000" stroke-width="1.2"/>
<line x1="305.7" y1="301.59" x2="309.3" y2="301.59" stroke="#000" stroke-width="1.2"/>
<line x1="305.7" y1="332.73" x2="309.3" y2="332.73" stroke="#000" stroke-width="1.2"/>
<line x1="305.7" y1="363.88" x2="309.3" y2="363.88" stroke="#000" stroke-width="1.2"/>
<line x1="305.7" y1="395.02" x2="309.3" y2="395.02" stroke="#000" stroke-width="1.2"/>
<line x1="305.7" y1="426.16" x2="309.3" y2="426.16" stroke="#000" stroke-width="1.2"/>
<line x1="309.3" y1="457.3" x2="309.3" y2="461.3" stroke="#000" stroke-width="1.3"/>
<line x1="339.29" y1="457.3" x2="339.29" y2="461.3" stroke="#000" stroke-width="1.3"/>
<line x1="369.27" y1="457.3" x2="369.27" y2="461.3" stroke="#000" stroke-width="1.3"/>
<line x1="399.26" y1="457.3" x2="399.26" y2="461.3" stroke="#000" stroke-width="1.3"/>
<line x1="429.24" y1="457.3" x2="429.24" y2="461.3" stroke="#000" stroke-width="1.3"/>
<line x1="459.23" y1="457.3" x2="459.23" y2="461.3" stroke="#000" stroke-width="1.3"/>
<line x1="489.21" y1="457.3" x2="489.21" y2="461.3" stroke="#000" stroke-width="1.3"/>
<line x1="519.2" y1="457.3" x2="519.2" y2="461.3" stroke="#000" stroke-width="1.3"/>
<text x="305" y="275.7" class="tk" text-anchor="end" font-size="11.8" font-weight="bold" textLength="15.3" lengthAdjust="spacingAndGlyphs">1.2</text>
<text x="305" y="306.58" class="tk" text-anchor="end" font-size="11.8" font-weight="bold" textLength="15.3" lengthAdjust="spacingAndGlyphs">1.0</text>
<text x="305" y="337.47" class="tk" text-anchor="end" font-size="11.8" font-weight="bold" textLength="15.3" lengthAdjust="spacingAndGlyphs">0.8</text>
<text x="305" y="368.35" class="tk" text-anchor="end" font-size="11.8" font-weight="bold" textLength="15.3" lengthAdjust="spacingAndGlyphs">0.6</text>
<text x="305" y="399.23" class="tk" text-anchor="end" font-size="11.8" font-weight="bold" textLength="15.3" lengthAdjust="spacingAndGlyphs">0.4</text>
<text x="305" y="430.12" class="tk" text-anchor="end" font-size="11.8" font-weight="bold" textLength="15.3" lengthAdjust="spacingAndGlyphs">0.2</text>
<text x="303.8" y="461" class="tk" text-anchor="end" font-size="11.8" font-weight="bold" textLength="6.6" lengthAdjust="spacingAndGlyphs">0</text>
<text transform="translate(280.7,363.88) rotate(-90)" class="yt" text-anchor="middle" font-size="11.8" font-weight="bold" textLength="45.5" lengthAdjust="spacingAndGlyphs">Input (%)</text>
<text transform="translate(327.4,473.9) rotate(-45)" class="xl" text-anchor="end" font-size="12.8" font-weight="bold" textLength="16" lengthAdjust="spacingAndGlyphs">IgG</text>
<text transform="translate(357.39,473.9) rotate(-45)" class="xl" text-anchor="end" font-size="12.8" font-weight="bold" textLength="18.5" lengthAdjust="spacingAndGlyphs">TR2</text>
<text transform="translate(387.37,473.9) rotate(-45)" class="xl" text-anchor="end" font-size="12.8" font-weight="bold" textLength="18.5" lengthAdjust="spacingAndGlyphs">TR4</text>
<text transform="translate(417.36,473.9) rotate(-45)" class="xl" text-anchor="end" font-size="12.8" font-weight="bold" textLength="23.3" lengthAdjust="spacingAndGlyphs">LSD1</text>
<text transform="translate(447.34,473.9) rotate(-45)" class="xl" text-anchor="end" font-size="12.8" font-weight="bold" textLength="36.4" lengthAdjust="spacingAndGlyphs">DNMT1</text>
<text transform="translate(477.33,473.9) rotate(-45)" class="xl" text-anchor="end" font-size="12.8" font-weight="bold" textLength="36.4" lengthAdjust="spacingAndGlyphs">CoREST</text>
<text transform="translate(507.31,473.9) rotate(-45)" class="xl" text-anchor="end" font-size="12.8" font-weight="bold" textLength="26.5" lengthAdjust="spacingAndGlyphs">TIF1β</text>
<text x="325.5" y="283.8" class="ti" font-size="12.2" textLength="40.4" lengthAdjust="spacingAndGlyphs">βmaj5.9</text>
<rect x="478.8" y="277.2" width="6.4" height="6.4" fill="#3f3f3f" stroke="#000" stroke-width="1.2"/>
<rect x="478.8" y="288.7" width="6.4" height="6.4" fill="#bebebe" stroke="#000" stroke-width="1.2"/>
<text x="490.7" y="282.3" class="lg" font-size="11.2" textLength="20.2" lengthAdjust="spacingAndGlyphs">Cre-</text>
<text x="490.7" y="293.9" class="lg" font-size="11.2" textLength="23.6" lengthAdjust="spacingAndGlyphs">Cre+</text>
<text x="268.3" y="263.8" class="pl" font-size="19" font-weight="bold" textLength="12.6" lengthAdjust="spacingAndGlyphs">D</text>
</svg>
</body></html>
